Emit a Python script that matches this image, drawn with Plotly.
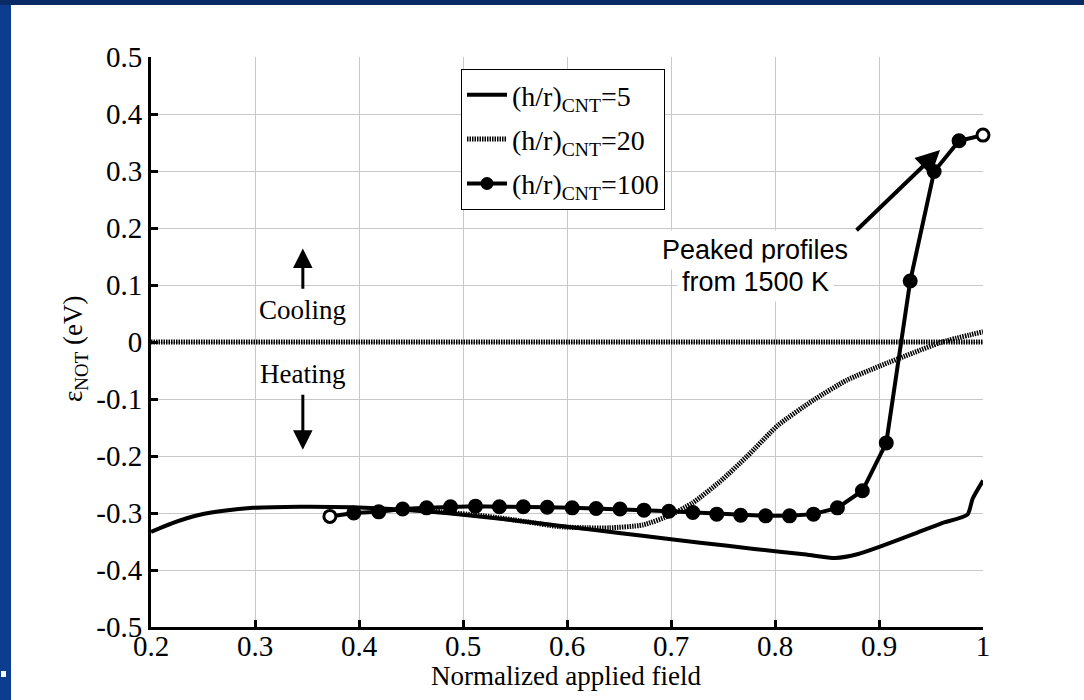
import plotly.graph_objects as go

# ---------------- data ----------------
x_hr5 = [0.200, 0.220, 0.247, 0.270, 0.298, 0.343, 0.394, 0.440, 0.500, 0.550, 0.600,
         0.650, 0.700, 0.728, 0.780, 0.830, 0.858, 0.880, 0.901, 0.933, 0.960, 0.985,
         0.990, 1.000]
y_hr5 = [-0.333, -0.318, -0.303, -0.296, -0.291, -0.289, -0.290, -0.294, -0.303, -0.313,
         -0.324, -0.335, -0.346, -0.352, -0.363, -0.373, -0.379, -0.372, -0.359, -0.337,
         -0.318, -0.303, -0.275, -0.243]

x_hr20 = [0.440, 0.480, 0.520, 0.560, 0.593, 0.620, 0.641, 0.673, 0.699, 0.721, 0.747,
          0.773, 0.803, 0.837, 0.869, 0.901, 0.933, 0.959, 1.000]
y_hr20 = [-0.293, -0.298, -0.305, -0.315, -0.324, -0.326, -0.326, -0.321, -0.304, -0.282,
          -0.245, -0.201, -0.146, -0.102, -0.067, -0.042, -0.019, -0.001, 0.018]

x_hr100 = [0.372, 0.395, 0.419, 0.442, 0.465, 0.488, 0.512, 0.535, 0.558, 0.581, 0.605,
           0.628, 0.651, 0.674, 0.698, 0.721, 0.744, 0.767, 0.791, 0.814, 0.837, 0.860,
           0.884, 0.907, 0.930, 0.953, 0.977, 1.000]
y_hr100 = [-0.306, -0.300, -0.298, -0.293, -0.291, -0.289, -0.288, -0.289, -0.289, -0.290,
           -0.291, -0.292, -0.293, -0.295, -0.297, -0.299, -0.302, -0.304, -0.305, -0.305,
           -0.302, -0.291, -0.261, -0.177, 0.107, 0.299, 0.353, 0.363]

series_names = ["(h/r)<sub>CNT</sub>=5", "(h/r)<sub>CNT</sub>=20", "(h/r)<sub>CNT</sub>=100"]

x_tickvals = [0.2, 0.3, 0.4, 0.5, 0.6, 0.7, 0.8, 0.9, 1.0]
x_ticktext = ["0.2", "0.3", "0.4", "0.5", "0.6", "0.7", "0.8", "0.9", "1"]
y_tickvals = [0.5, 0.4, 0.3, 0.2, 0.1, 0.0, -0.1, -0.2, -0.3, -0.4, -0.5]
y_ticktext = ["0.5", "0.4", "0.3", "0.2", "0.1", "0", "-0.1", "-0.2", "-0.3", "-0.4", "-0.5"]

zero_level = 0.0
x_title = "Normalized applied field"
y_title = "\u03b5<sub>NOT</sub> (eV)"

# ---------------- layout constants ----------------
W, H = 1084, 700
L, R, T, B = 151, 101, 57, 73
PW, PH = W - L - R, H - T - B


def px_x(p):
    return (p - L) / PW


def px_y(p):
    return (H - B - p) / PH


SERIF = "Liberation Serif, Times New Roman, serif"
SANS = "Liberation Sans, Arial, sans-serif"
DOT = "1.5px,1px"

fig = go.Figure()

fig.add_trace(go.Scatter(x=x_hr5, y=y_hr5, mode="lines", name=series_names[0],
                         legendgroup="a",
                         line=dict(color="black", width=4, shape="spline", smoothing=0.6)))
fig.add_trace(go.Scatter(x=x_hr20, y=y_hr20, mode="lines", name=series_names[1],
                         legendgroup="b",
                         line=dict(color="black", width=5, dash=DOT, shape="spline", smoothing=0.6)))

marker_fill = ["white"] + ["black"] * (len(x_hr100) - 2) + ["white"]
fig.add_trace(go.Scatter(x=x_hr100, y=y_hr100, mode="lines+markers", name=series_names[2],
                         showlegend=False, cliponaxis=False,
                         line=dict(color="black", width=4),
                         marker=dict(size=12, color=marker_fill, line=dict(color="black", width=3))))
# legend entry for h/r=100 (filled marker, as in the reference legend)
fig.add_trace(go.Scatter(x=[None], y=[None], mode="lines+markers", name=series_names[2],
                         legendgroup="c",
                         line=dict(color="black", width=4),
                         marker=dict(size=13, color="black")))

shapes = [
    # slide background: white panel
    dict(type="rect", xref="paper", yref="paper", x0=px_x(11), x1=px_x(1100),
         y0=px_y(720), y1=px_y(5), fillcolor="white", line=dict(width=0), layer="below"),
    # darker top band
    dict(type="rect", xref="paper", yref="paper", x0=px_x(-10), x1=px_x(1100),
         y0=px_y(5), y1=px_y(-10), fillcolor="#0a2a66", line=dict(width=0), layer="below"),
    # small bullet at bottom-left
    dict(type="rect", xref="paper", yref="paper", x0=px_x(1), x1=px_x(6),
         y0=px_y(677), y1=px_y(671), fillcolor="white", line=dict(width=0), layer="below"),
    # zero reference line
    dict(type="line", xref="x", yref="y", x0=x_tickvals[0], x1=x_tickvals[-1],
         y0=zero_level, y1=zero_level, line=dict(color="black", width=5, dash=DOT)),
]

annotations = [
    dict(x=0.346, y=0.056, xref="x", yref="y", text="Cooling", showarrow=False,
         font=dict(family=SERIF, size=27, color="black")),
    dict(x=0.346, y=-0.056, xref="x", yref="y", text="Heating", showarrow=False,
         font=dict(family=SERIF, size=27, color="black")),
    dict(x=0.346, y=0.164, ax=0.346, ay=0.091, xref="x", yref="y", axref="x", ayref="y",
         text="", showarrow=True, arrowhead=2, arrowsize=1.3, arrowwidth=3, arrowcolor="black"),
    dict(x=0.346, y=-0.189, ax=0.346, ay=-0.09, xref="x", yref="y", axref="x", ayref="y",
         text="", showarrow=True, arrowhead=2, arrowsize=1.3, arrowwidth=3, arrowcolor="black"),
    dict(x=0.9587, y=0.337, ax=0.877, ay=0.1935, xref="x", yref="y", axref="x", ayref="y",
         text="", showarrow=True, arrowhead=2, arrowsize=1.2, arrowwidth=4, arrowcolor="black"),
    dict(x=0.781, y=(342 - 250) / 570, xref="x", yref="y", text="Peaked profiles",
         showarrow=False, bgcolor="white", borderpad=4,
         font=dict(family=SANS, size=27, color="black")),
    dict(x=0.781, y=(342 - 282) / 570, xref="x", yref="y", text="from 1500 K",
         showarrow=False, bgcolor="white", borderpad=4,
         font=dict(family=SANS, size=27, color="black")),
    # axis titles
    dict(x=px_x(566), y=px_y(676), xref="paper", yref="paper", text=x_title, showarrow=False,
         xanchor="center", yanchor="middle",
         font=dict(family=SERIF, size=27, color="black")),
    dict(x=px_x(75), y=px_y(349), xref="paper", yref="paper", text=y_title, showarrow=False,
         xanchor="center", yanchor="middle",
         textangle=-90, font=dict(family=SERIF, size=27, color="black")),
]

axis_common = dict(showgrid=True, gridcolor="#c8c8c8", gridwidth=1, zeroline=False,
                   showline=True, linecolor="black", linewidth=3, mirror=False,
                   ticks="inside", ticklen=7, tickwidth=3, tickcolor="black",
                   tickfont=dict(family=SERIF, size=29, color="black"), automargin=False)

fig.update_layout(
    width=W, height=H,
    margin=dict(l=L, r=R, t=T, b=B, pad=0),
    paper_bgcolor="#0d3d8e",
    plot_bgcolor="white",
    shapes=shapes,
    annotations=annotations,
    showlegend=True,
    legend=dict(x=px_x(461), y=px_y(69), xanchor="left", yanchor="top",
                bgcolor="white", bordercolor="black", borderwidth=1,
                font=dict(family=SERIF, size=28, color="black"),
                itemwidth=40, tracegroupgap=5, traceorder="grouped"),
    xaxis=dict(range=[0.2, 1.0], tickmode="array", tickvals=x_tickvals, ticktext=x_ticktext,
               ticklabelstandoff=-9, **axis_common),
    yaxis=dict(range=[-0.5, 0.5], tickmode="array", tickvals=y_tickvals, ticktext=y_ticktext,
               **axis_common),
)

fig.write_html("out.html")
